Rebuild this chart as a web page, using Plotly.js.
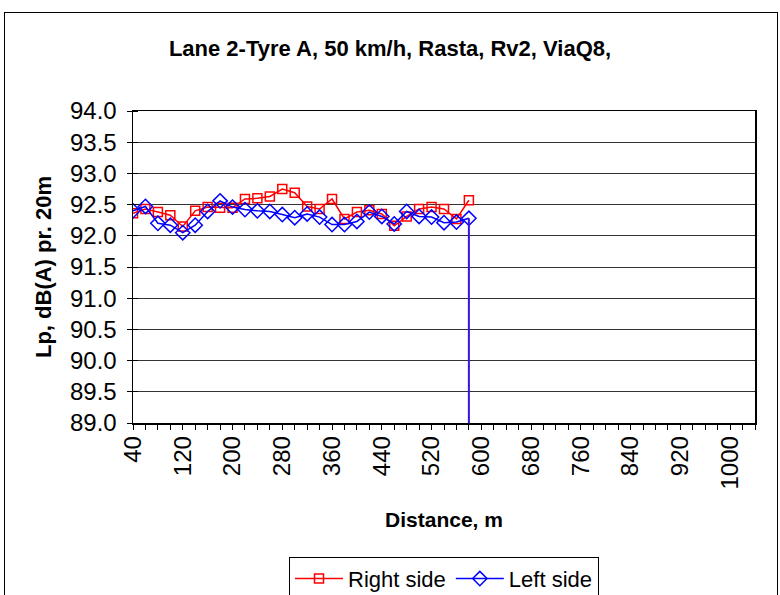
<!DOCTYPE html>
<html>
<head>
<meta charset="utf-8">
<script src="https://cdn.plot.ly/plotly-3.0.1.min.js"></script>
<style>
html,body{margin:0;padding:0;background:#fff;}
#wrap{position:relative;width:780px;height:595px;overflow:hidden;}
#chart{position:absolute;left:0;top:0;width:780px;height:595px;}
#frame{position:absolute;left:4px;top:12px;width:772px;height:600px;border:1.5px solid #000;pointer-events:none;}
</style>
</head>
<body>
<div id="wrap"><div id="chart"></div><div id="frame"></div></div>
<script>
// Distance (m)
const distance = [40,60,80,100,120,140,160,180,200,220,240,260,280,300,320,340,360,380,400,420,440,460,480,500,520,540,560,580];
// Lp, dB(A) pr. 20m
const rightSide = [92.36,92.43,92.38,92.33,92.15,92.40,92.46,92.45,92.45,92.59,92.60,92.63,92.75,92.69,92.47,92.43,92.59,92.27,92.38,92.41,92.35,92.16,92.31,92.43,92.46,92.43,92.27,92.57];
const leftSide  = [92.40,92.47,92.20,92.17,92.05,92.17,92.39,92.56,92.46,92.42,92.40,92.39,92.34,92.29,92.35,92.30,92.18,92.18,92.23,92.38,92.31,92.19,92.39,92.31,92.30,92.21,92.22,92.28];
const yMin = 89.0, yMax = 94.0;
const xMin = 40, xMax = 1040;

const lastX = distance[distance.length-1];
const lastLeft = leftSide[leftSide.length-1];

const traces = [
  {x: distance, y: rightSide, name: 'Right side', type: 'scatter', mode: 'lines+markers',
   line: {color: '#FF0000', width: 1.5},
   marker: {symbol: 'square-open', size: 9, color: '#FF0000', line: {width: 1.5, color: '#FF0000'}}},
  {x: distance, y: leftSide, name: 'Left side', type: 'scatter', mode: 'lines+markers',
   line: {color: '#0000FF', width: 1.5},
   marker: {symbol: 'diamond-open', size: 11, color: '#0000FF', line: {width: 1.5, color: '#0000FF'}}},
  {x: [lastX, lastX], y: [lastLeft, yMin], type: 'scatter', mode: 'lines', showlegend: false,
   hoverinfo: 'skip', line: {color: '#3A10E5', width: 2}, cliponaxis: false}
];

const font = 'Liberation Sans, Arial, sans-serif';
const layout = {
  width: 780, height: 595,
  margin: {l: 133, r: 25, t: 110.5, b: 172, autoexpand: false},
  paper_bgcolor: '#fff', plot_bgcolor: '#fff',
  font: {family: font, color: '#000', size: 22},
  title: {text: '<b>Lane 2-Tyre A, 50 km/h, Rasta, Rv2, ViaQ8,</b>', x: 0.5, xanchor: 'center',
          y: 1 - 48/595, yanchor: 'middle', font: {size: 22, family: font, color: '#000'}},
  xaxis: {range: [xMin, xMax], tick0: 40, dtick: 80, tickmode: 'linear', tickangle: -90, automargin: false,
          showgrid: false, zeroline: false, showline: true, linecolor: '#000', linewidth: 1.5, mirror: true,
          ticks: 'outside', ticklen: 5, tickcolor: '#000', tickwidth: 1, ticklabelstandoff: -3,
          minor: {dtick: 20, tick0: 40, ticks: 'outside', ticklen: 5, tickcolor: '#000', tickwidth: 1, showgrid: false},
          tickfont: {size: 24, family: font},
          title: {text: '<b>Distance, m</b>', font: {size: 21, family: font}, standoff: 24}},
  yaxis: {range: [yMin, yMax], tick0: 89, dtick: 0.5, tickmode: 'linear', tickformat: '.1f', automargin: false,
          showgrid: true, gridcolor: '#333333', gridwidth: 1, zeroline: false,
          showline: true, linecolor: '#000', linewidth: 1.5, mirror: true,
          ticks: 'outside', ticklen: 5, tickcolor: '#000', tickwidth: 1, ticklabelstandoff: 5,
          minor: {dtick: 0.5, tick0: 89, ticks: 'inside', ticklen: 5, tickcolor: '#000', tickwidth: 1, showgrid: false},
          tickfont: {size: 24, family: font},
          title: {text: '<b>Lp, dB(A) pr. 20m</b>', font: {size: 22, family: font}, standoff: 12}},
  legend: {orientation: 'h', x: 0.5, xanchor: 'center', y: -134/312.5, yanchor: 'top',
           bordercolor: '#000', borderwidth: 1, bgcolor: '#fff', font: {size: 22, family: font},
           itemwidth: 48, tracegroupgap: 0},
  showlegend: true
};

Plotly.newPlot('chart', traces, layout, {displayModeBar: false, staticPlot: true});
</script>
</body>
</html>
